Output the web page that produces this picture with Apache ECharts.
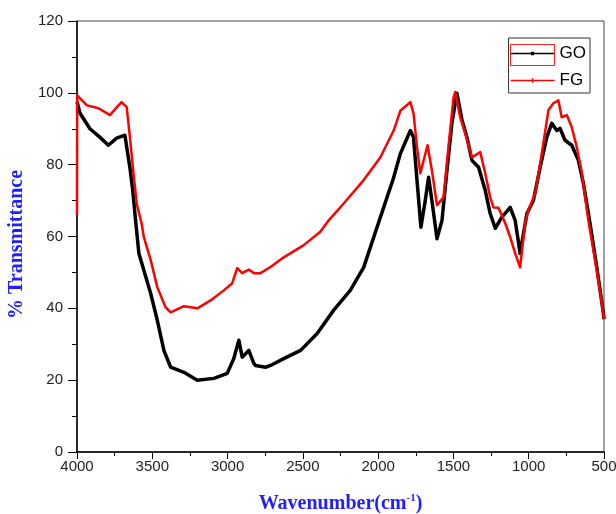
<!DOCTYPE html>
<html>
<head>
<meta charset="utf-8">
<script src="https://cdn.jsdelivr.net/npm/echarts@6/dist/echarts.min.js"></script>
<style>
html,body{margin:0;padding:0;background:#fff;}
#chart{width:616px;height:514px;}
</style>
</head>
<body>
<div id="chart"></div>
<script>
// ---- data ----
var goWn = [4000,3980,3914,3847,3792,3737,3682,3670,3648,3630,3611,3589,3556,3511,3467,3423,3378,3290,3201,3091,3002,2959,2925,2903,2859,2826,2815,2748,2715,2627,2515,2405,2295,2185,2096,2007,1941,1900,1853,1786,1765,1742,1716,1687,1665,1643,1609,1576,1543,1510,1477,1443,1410,1377,1333,1289,1256,1222,1178,1123,1090,1057,1012,969,924,880,847,813,792,759,714,670,637,593,548,504,500];
var goT  = [97.5,94.3,90.0,87.6,85.4,87.4,88.2,88.2,79.0,73.0,64.5,55.3,50.6,44.2,36.7,28.3,23.6,22.2,20.0,20.5,21.9,26.0,31.1,26.4,28.3,24.7,24.1,23.6,24.1,26.0,28.3,33.0,39.5,45.0,51.4,62.6,70.9,76.0,83.0,89.5,87.6,75.7,62.6,70.0,76.5,70.0,59.4,64.5,78.4,91.6,99.9,92.4,87.6,81.2,79.3,72.9,66.4,62.3,65.4,68.1,64.5,55.3,66.4,70.0,79.3,87.6,91.5,89.5,90.1,86.8,85.4,81.2,74.8,63.7,51.4,38.6,37.0];

var fgWn = [4000,3999,3934,3858,3781,3725,3704,3670,3648,3626,3603,3571,3556,3511,3467,3412,3378,3290,3201,3113,3025,2969,2936,2903,2859,2826,2782,2715,2627,2494,2384,2328,2229,2096,1986,1897,1853,1786,1765,1742,1720,1672,1643,1609,1566,1533,1499,1488,1455,1422,1377,1322,1289,1256,1234,1201,1156,1123,1090,1057,1024,1002,957,913,869,836,803,781,747,714,681,647,604,548,504,500];
var fgT  = [66.0,99.3,96.5,95.7,93.8,96.5,97.4,96.0,87.4,78.0,69.0,63.7,59.8,53.5,45.9,40.3,38.9,40.6,40.0,42.2,45.0,47.0,51.2,49.8,50.8,49.8,49.8,51.5,54.2,57.6,61.3,64.5,69.2,75.7,82.0,89.5,95.0,97.4,94.3,84.9,77.6,85.4,78.4,68.7,70.9,84.9,98.8,100.2,93.2,88.7,82.0,83.5,77.6,70.9,68.1,68.0,63.7,59.8,55.3,51.4,63.7,67.3,72.0,83.2,95.2,97.1,97.9,93.2,93.8,90.4,84.9,77.6,64.5,50.6,38.6,37.0];

var xTicks = {min: 500, max: 4000, step: 500};
var yTicks = {min: 0, max: 120, step: 20};
var seriesNames = ['GO', 'FG'];

function pairs(xs, ys){ return xs.map(function(x,i){ return [x, ys[i]]; }); }

var chart = echarts.init(document.getElementById('chart'), null, {renderer:'canvas'});

var goIcon = 'path://M0,0 L0.01,0 L0.01,0.01 Z M0,6.3 L44,6.3 L44,7.8 L0,7.8 Z M20.5,5.3 L23.5,5.3 L23.5,8.8 L20.5,8.8 Z M0,14 L0.01,14 L0.01,13.99 Z';
var fgIcon = 'path://M0,0 L0.01,0 L0.01,0.01 Z M0,6.3 L44,6.3 L44,7.8 L0,7.8 Z M21.3,4.8 L22.7,4.8 L22.7,9.3 L21.3,9.3 Z M0,14 L0.01,14 L0.01,13.99 Z';

var option = {
  backgroundColor: '#ffffff',
  animation: false,
  grid: {left: 77, right: 12, top: 21, bottom: 62, outerBoundsMode: 'none', containLabel: false, show: true, borderColor: '#444', borderWidth: 1, backgroundColor: 'transparent'},
  legend: {
    orient: 'vertical',
    right: 26, top: 38,
    padding: [7, 4, 4, 2],
    itemWidth: 44, itemHeight: 14, itemGap: 10,
    borderColor: '#333', borderWidth: 1,
    textStyle: {fontFamily: 'Liberation Sans, Arial, sans-serif', fontSize: 17, color: '#000', padding: [0,0,0,0]},
    data: [
      {name: seriesNames[0], icon: goIcon, itemStyle: {color: '#000'}},
      {name: seriesNames[1], icon: fgIcon, itemStyle: {color: '#ff0000'}}
    ]
  },
  graphic: [
    {type: 'rect', left: 508, top: 42, shape: {width: 44, height: 21}, style: {fill: 'none', stroke: '#ff2020', lineWidth: 1}, z: 100}
  ],
  xAxis: {
    type: 'value', inverse: true,
    min: xTicks.min, max: xTicks.max, interval: xTicks.step,
    name: '{a|Wavenumber(cm}{s|-1}{a|)}',
    nameLocation: 'middle', nameGap: 41,
    nameTextStyle: {
      rich: {
        a: {fontFamily: 'Liberation Serif, Times New Roman, serif', fontWeight: 'bold', fontSize: 20, color: '#1f1fff'},
        s: {fontFamily: 'Liberation Serif, Times New Roman, serif', fontWeight: 'bold', fontSize: 11, color: '#1f1fff', verticalAlign: 'top', padding: [0,0,10,0]}
      }
    },
    axisLine: {show: true, onZero: false, lineStyle: {color: '#000', width: 1.5}},
    axisTick: {show: true, inside: false, length: 7, lineStyle: {color: '#000', width: 1}},
    minorTick: {show: true, splitNumber: 2, length: 4, lineStyle: {color: '#000', width: 1}},
    axisLabel: {margin: 7, fontFamily: 'Liberation Sans, Arial, sans-serif', fontSize: 15, color: '#222', hideOverlap: false, showMinLabel: true, showMaxLabel: true, formatter: function(v){ return String(v); }},
    splitLine: {show: false},
    minorSplitLine: {show: false}
  },
  yAxis: {
    type: 'value',
    min: yTicks.min, max: yTicks.max, interval: yTicks.step,
    name: '% Transmittance',
    nameLocation: 'middle', nameGap: 50, nameRotate: 90,
    nameTextStyle: {fontFamily: 'Liberation Serif, Times New Roman, serif', fontWeight: 'bold', fontSize: 20, color: '#1f1fff', padding: [0, 16, 0, 0]},
    axisLine: {show: true, onZero: false, lineStyle: {color: '#000', width: 1.5}},
    axisTick: {show: true, inside: false, length: 9, lineStyle: {color: '#000', width: 1}},
    minorTick: {show: true, splitNumber: 2, length: 5, lineStyle: {color: '#000', width: 1}},
    axisLabel: {margin: 14, fontFamily: 'Liberation Sans, Arial, sans-serif', fontSize: 15, color: '#222', formatter: function(v){ return String(v); }},
    splitLine: {show: false},
    minorSplitLine: {show: false}
  },
  series: [
    {
      name: seriesNames[0], type: 'line', data: pairs(goWn, goT),
      showSymbol: false, symbol: 'circle', smooth: false,
      lineStyle: {color: '#000', width: 3.5, join: 'round'},
      itemStyle: {color: '#000'}, z: 2
    },
    {
      name: seriesNames[1], type: 'line', data: pairs(fgWn, fgT),
      showSymbol: false, symbol: 'circle', smooth: false,
      lineStyle: {color: '#ff0000', width: 2.5, join: 'round'},
      itemStyle: {color: '#ff0000'}, z: 3
    }
  ]
};
chart.setOption(option);
</script>
</body>
</html>
